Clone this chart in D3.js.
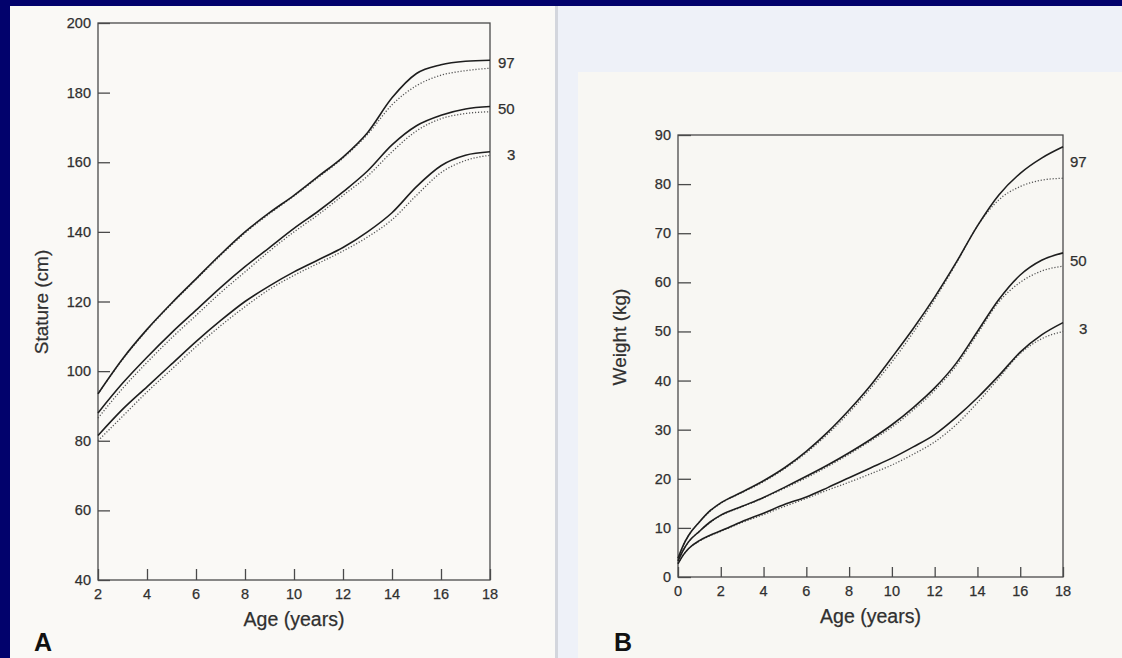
<!DOCTYPE html>
<html>
<head>
<meta charset="utf-8">
<script src="https://cdnjs.cloudflare.com/ajax/libs/d3/7.8.5/d3.min.js"></script>
<style>
  html, body { margin: 0; padding: 0; background: #02026c; }
  svg { display: block; }
  text { font-family: "Liberation Sans", Arial, Helvetica, sans-serif; fill: #303030; stroke: #303030; stroke-width: 0.25; }
</style>
</head>
<body>
<svg id="chart" width="1122" height="658"></svg>
<script>
// ---------- Panel A: stature (cm) ----------
const staturePercentiles = ["97", "50", "3"];
const statureAges = [2, 3, 4, 5, 6, 7, 8, 9, 10, 11, 12, 13, 14, 15, 16, 17, 18];
const stature97Solid  = [93.5, 103.5, 112, 119.5, 126.5, 133.5, 140, 145.5, 150.5, 156, 161.5, 168.5, 178.5, 185.5, 188, 189, 189.3];
const stature97Dotted = [93.5, 103.3, 111.8, 119.3, 126.3, 133.2, 139.7, 145.2, 150.3, 155.7, 161.2, 168, 176.5, 182, 185, 186.3, 187];
const stature50Solid  = [88, 96.5, 104, 111, 117.5, 124, 130, 135.5, 141, 146, 151.5, 157.5, 165, 170.5, 173.5, 175.3, 176];
const stature50Dotted = [86.5, 95, 102.5, 109.5, 116, 122.5, 128.5, 134.5, 140, 145, 150.5, 156, 163, 169, 172.5, 174, 174.5];
const stature3Solid   = [81.5, 89, 95.5, 102, 108.5, 114.5, 120, 124.5, 128.5, 132, 135.5, 140, 145.5, 153, 159, 162, 163];
const stature3Dotted  = [80, 87, 94, 100.5, 107, 113, 118.5, 123.5, 127.5, 131, 134.5, 138.5, 143.5, 150.5, 157, 160.5, 162];
const statureXTicks = [2, 4, 6, 8, 10, 12, 14, 16, 18];
const statureYTicks = [40, 60, 80, 100, 120, 140, 160, 180, 200];

// ---------- Panel B: weight (kg) ----------
const weightPercentiles = ["97", "50", "3"];
const weightAges = [0, 0.25, 0.5, 1, 1.5, 2, 3, 4, 5, 6, 7, 8, 9, 10, 11, 12, 13, 14, 15, 16, 17, 18];
const weight97Solid  = [3.8, 6.5, 8.5, 11.2, 13.5, 15.1, 17.3, 19.6, 22.3, 25.6, 29.5, 34, 39, 44.7, 50.6, 57, 64, 71.5, 77.8, 82.2, 85.3, 87.6];
const weight97Dotted = [3.8, 6.5, 8.5, 11.2, 13.4, 15, 17.2, 19.4, 22.1, 25.3, 29.1, 33.5, 38.4, 43.8, 49.8, 56.5, 63.8, 71.5, 76.8, 79.5, 80.8, 81.2];
const weight50Solid  = [3.3, 5.5, 7.2, 9.3, 11.2, 12.6, 14.4, 16.2, 18.3, 20.5, 22.8, 25.3, 28, 31, 34.5, 38.5, 43.5, 50, 56.5, 61.5, 64.5, 66];
const weight50Dotted = [3.3, 5.5, 7.2, 9.3, 11.1, 12.5, 14.3, 16.1, 18.1, 20.2, 22.5, 25, 27.7, 30.5, 34, 38, 43, 49.5, 56, 60, 62.3, 63.3];
const weight3Solid   = [2.7, 4.5, 5.8, 7.4, 8.5, 9.4, 11.3, 13.0, 14.8, 16.3, 18.2, 20.2, 22.2, 24.2, 26.5, 29, 32.5, 36.5, 41, 45.8, 49.3, 51.8];
const weight3Dotted  = [2.7, 4.5, 5.8, 7.3, 8.4, 9.3, 11.1, 12.7, 14.4, 16, 17.7, 19.3, 21, 22.8, 25, 27.5, 31, 35.5, 40.5, 45.5, 48.5, 50];
const weightXTicks = [0, 2, 4, 6, 8, 10, 12, 14, 16, 18];
const weightYTicks = [0, 10, 20, 30, 40, 50, 60, 70, 80, 90];

const svg = d3.select("#chart");

// background pieces of the photographed page
svg.append("rect").attr("x", 0).attr("y", 0).attr("width", 1122).attr("height", 658).attr("fill", "#02026c");
svg.append("rect").attr("x", 10).attr("y", 6).attr("width", 546).attr("height", 652).attr("fill", "#faf9f6");
svg.append("rect").attr("x", 556).attr("y", 6).attr("width", 566).attr("height", 652).attr("fill", "#eef1f8");
svg.append("rect").attr("x", 578).attr("y", 72).attr("width", 544).attr("height", 586).attr("fill", "#f8f7f3");
svg.append("rect").attr("x", 555).attr("y", 6).attr("width", 3).attr("height", 652).attr("fill", "#d3d6dd");

function drawPanel(cfg) {
  const g = svg.append("g");
  const x = d3.scaleLinear().domain(cfg.xDomain).range([cfg.left, cfg.right]);
  const y = d3.scaleLinear().domain(cfg.yDomain).range([cfg.bottom, cfg.top]);

  // frame
  g.append("rect")
    .attr("x", cfg.left).attr("y", cfg.top)
    .attr("width", cfg.right - cfg.left).attr("height", cfg.bottom - cfg.top)
    .attr("fill", "none").attr("stroke", "#4a4a4a").attr("stroke-width", 1.3);

  // inward ticks via d3 axes
  const xAxis = d3.axisTop(x).tickValues(cfg.xTicks).tickSize(cfg.xTickLen).tickFormat("");
  const xa = g.append("g").attr("transform", `translate(0,${cfg.bottom})`).call(xAxis);
  xa.select(".domain").remove();
  xa.selectAll("line").attr("stroke", "#4a4a4a").attr("stroke-width", 1.3);

  const yAxis = d3.axisRight(y).tickValues(cfg.yTicks).tickSize(cfg.yTickLen).tickFormat("");
  const ya = g.append("g").attr("transform", `translate(${cfg.left},0)`).call(yAxis);
  ya.select(".domain").remove();
  ya.selectAll("line").attr("stroke", "#4a4a4a").attr("stroke-width", 1.3);

  // tick labels
  g.selectAll(".xl").data(cfg.xTicks).enter().append("text")
    .attr("x", d => x(d)).attr("y", cfg.bottom + 19)
    .attr("text-anchor", "middle").attr("font-size", 14.5).text(d => d);
  g.selectAll(".yl").data(cfg.yTicks).enter().append("text")
    .attr("x", cfg.left - 7).attr("y", d => y(d) + 5)
    .attr("text-anchor", "end").attr("font-size", 14.5).text(d => d);

  // axis titles
  g.append("text").attr("x", (cfg.left + cfg.right) / 2).attr("y", cfg.bottom + 46)
    .attr("text-anchor", "middle").attr("font-size", 19.5).text("Age (years)");
  g.append("text")
    .attr("transform", `translate(${cfg.yTitleX},${cfg.yTitleY}) rotate(-90)`)
    .attr("text-anchor", "middle").attr("font-size", 19).text(cfg.yTitle);

  // panel letter
  g.append("text").attr("x", cfg.letterX).attr("y", 651)
    .attr("text-anchor", "middle").attr("font-size", 25).attr("font-weight", "bold")
    .style("fill", "#111").style("stroke", "none").text(cfg.letter);

  const line = d3.line().x(d => x(d[0])).y(d => y(d[1])).curve(d3.curveMonotoneX);

  cfg.series.forEach((s, i) => {
    g.append("path").datum(cfg.ages.map((a, k) => [a, s.dotted[k]]))
      .attr("d", line).attr("fill", "none")
      .attr("stroke", "#555").attr("stroke-width", 1.3).attr("stroke-dasharray", "1.2,1.8");
    g.append("path").datum(cfg.ages.map((a, k) => [a, s.solid[k]]))
      .attr("d", line).attr("fill", "none")
      .attr("stroke", "#1e1e1e").attr("stroke-width", 1.6);
    const last = s.solid[s.solid.length - 1];
    g.append("text").attr("x", cfg.right + cfg.labelDx[i]).attr("y", y(last) + cfg.labelDy[i] + 5)
      .attr("font-size", 15).text(cfg.labels[i]);
  });
}

drawPanel({
  xDomain: [2, 18], yDomain: [40, 200],
  left: 98, right: 490, top: 23, bottom: 580,
  xTicks: statureXTicks, yTicks: statureYTicks,
  xTickLen: 11, yTickLen: 12,
  ages: statureAges,
  series: [
    { solid: stature97Solid, dotted: stature97Dotted },
    { solid: stature50Solid, dotted: stature50Dotted },
    { solid: stature3Solid, dotted: stature3Dotted }
  ],
  labels: staturePercentiles,
  labelDx: [8, 8, 17], labelDy: [3, 2, 3],
  yTitle: "Stature (cm)", yTitleX: 48, yTitleY: 302,
  letter: "A", letterX: 43
});

drawPanel({
  xDomain: [0, 18], yDomain: [0, 90],
  left: 678, right: 1063, top: 135, bottom: 577,
  xTicks: weightXTicks, yTicks: weightYTicks,
  xTickLen: 10, yTickLen: 13,
  ages: weightAges,
  series: [
    { solid: weight97Solid, dotted: weight97Dotted },
    { solid: weight50Solid, dotted: weight50Dotted },
    { solid: weight3Solid, dotted: weight3Dotted }
  ],
  labels: weightPercentiles,
  labelDx: [7, 7, 16], labelDy: [15, 8, 6],
  yTitle: "Weight (kg)", yTitleX: 626, yTitleY: 337,
  letter: "B", letterX: 623
});
</script>
</body>
</html>
